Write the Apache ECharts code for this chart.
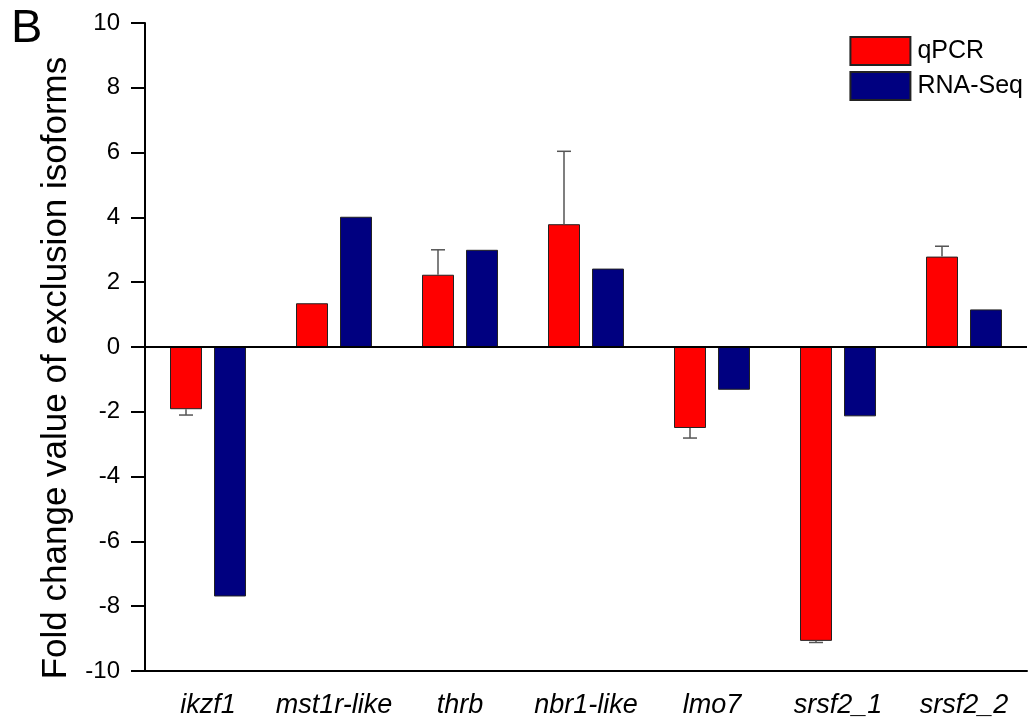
<!DOCTYPE html>
<html>
<head>
<meta charset="utf-8">
<script src="https://cdn.jsdelivr.net/npm/echarts@6/dist/echarts.min.js"></script>
<style>
  html, body { margin: 0; padding: 0; background: #fff; }
  #chart { width: 1034px; height: 725px; }
</style>
</head>
<body>
<div id="chart"></div>
<script>
// Genes with alternative isoforms
const categories = ['ikzf1', 'mst1r-like', 'thrb', 'nbr1-like', 'lmo7', 'srsf2_1', 'srsf2_2'];
// Fold change of exclusion isoforms
const qpcr = [-1.92, 1.35, 2.23, 3.79, -2.50, -9.07, 2.79];
const rnaSeq = [-7.70, 4.02, 3.00, 2.42, -1.32, -2.14, 1.16];
// One-sided error (away from zero) for the qPCR measurements
const qpcrErr = [0.18, 0, 0.77, 2.25, 0.31, 0.05, 0.32];
// Y axis range / ticks
const yMin = -10, yMax = 10, yStep = 2;

const FONT = '"Liberation Sans", Arial, Helvetica, sans-serif';
const BAR_W = 32, BAR_GAP_PX = 12;
const QPCR_OFFSET = -(BAR_W + BAR_GAP_PX) / 2;

const chart = echarts.init(document.getElementById('chart'), null, { renderer: 'canvas' });

chart.setOption({
  backgroundColor: '#ffffff',
  animation: false,
  textStyle: { fontFamily: FONT },
  grid: { left: 145, right: 7, top: 23, bottom: 54, containLabel: false },
  legend: {
    orient: 'vertical',
    right: 6,
    top: 31,
    itemWidth: 60,
    itemHeight: 28,
    itemGap: 5,
    icon: 'rect',
    textStyle: { fontFamily: FONT, fontSize: 25, color: '#000', padding: [0, 0, 0, 2] },
    data: ['qPCR', 'RNA-Seq']
  },
  graphic: [
    {
      type: 'text', left: 11, top: 6,
      style: { text: 'B', font: '47px ' + FONT, fill: '#000' }
    },
    {
      type: 'text', x: 56, y: 368, rotation: Math.PI / 2,
      style: {
        text: 'Fold change value of exclusion isoforms',
        font: '35px ' + FONT, fill: '#000',
        textAlign: 'center', textVerticalAlign: 'middle'
      }
    }
  ],
  xAxis: {
    type: 'category',
    data: categories,
    axisLine: { onZero: false, lineStyle: { color: '#000', width: 2 } },
    axisTick: { alignWithLabel: true, length: 12, lineStyle: { color: '#000', width: 2 } },
    axisLabel: { interval: 0, fontFamily: FONT, fontSize: 27, fontStyle: 'italic', color: '#000', margin: 21 },
    splitLine: { show: false }
  },
  yAxis: {
    type: 'value',
    min: yMin, max: yMax, interval: yStep,
    axisLine: { show: true, lineStyle: { color: '#000', width: 2 } },
    axisTick: { show: true, inside: false, length: 14, lineStyle: { color: '#000', width: 2 } },
    axisLabel: { fontFamily: FONT, fontSize: 24, color: '#000', margin: 25 },
    splitLine: { show: false }
  },
  series: [
    {
      name: 'qPCR',
      type: 'bar',
      data: qpcr,
      barWidth: BAR_W,
      barGap: (BAR_GAP_PX / BAR_W * 100) + '%',
      itemStyle: { color: '#ff0000', borderColor: '#222', borderWidth: 1 },
      markLine: {
        silent: true,
        symbol: ['none', 'none'],
        label: { show: false },
        lineStyle: { color: '#000', width: 2, type: 'solid' },
        data: [{ yAxis: 0 }],
        z: 5
      }
    },
    {
      name: 'RNA-Seq',
      type: 'bar',
      data: rnaSeq,
      barWidth: BAR_W,
      itemStyle: { color: '#000080', borderColor: '#222', borderWidth: 1 }
    },
    {
      name: 'qPCR error',
      type: 'custom',
      z: 4,
      silent: true,
      data: categories.map((c, i) => [i, qpcr[i], qpcrErr[i]]),
      encode: { x: 0, y: 1 },
      renderItem: function (params, api) {
        const i = api.value(0), v = api.value(1), e = api.value(2);
        if (!e) return null;
        const base = api.coord([i, v]);
        const tip = api.coord([i, v + Math.sign(v) * e]);
        const x = base[0] + QPCR_OFFSET;
        const style = { stroke: '#555', lineWidth: 1.5 };
        return {
          type: 'group',
          children: [
            { type: 'line', shape: { x1: x, y1: base[1], x2: x, y2: tip[1] }, style: style },
            { type: 'line', shape: { x1: x - 7, y1: tip[1], x2: x + 7, y2: tip[1] }, style: style }
          ]
        };
      }
    }
  ]
});
</script>
</body>
</html>
